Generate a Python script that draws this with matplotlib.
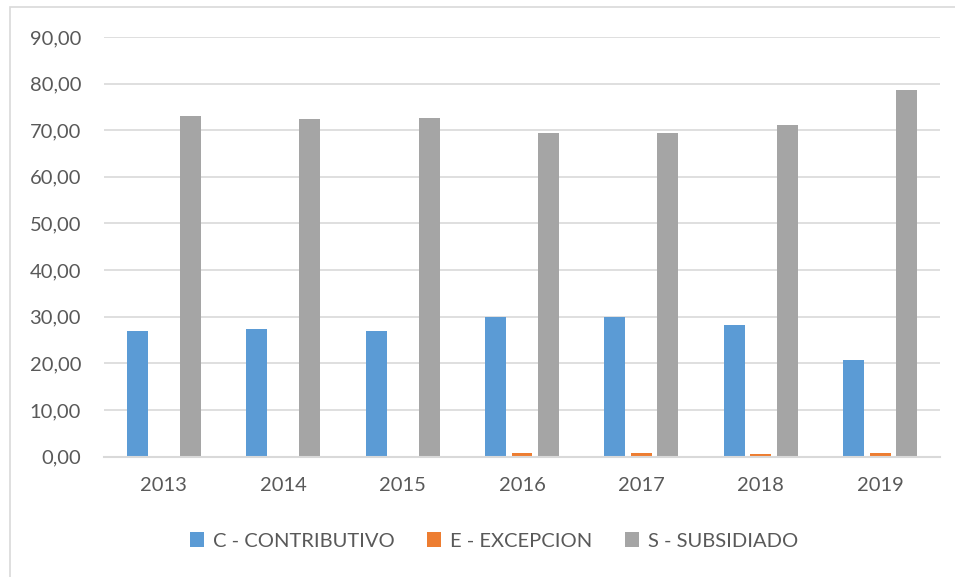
import numpy as np
import matplotlib.pyplot as plt
from matplotlib.patches import Rectangle
from matplotlib.ticker import FuncFormatter

plt.rcParams['font.family'] = ['Lato', 'DejaVu Sans']

years = ['2013', '2014', '2015', '2016', '2017', '2018', '2019']
contributivo = [26.9, 27.4, 26.9, 29.9, 29.9, 28.2, 20.6]
excepcion = [0.05, 0.2, 0.2, 0.7, 0.7, 0.6, 0.75]
subsidiado = [73.1, 72.4, 72.7, 69.5, 69.5, 71.2, 78.6]

series = [
    ('C - CONTRIBUTIVO', contributivo, '#5B9BD5'),
    ('E - EXCEPCION', excepcion, '#ED7D31'),
    ('S - SUBSIDIADO', subsidiado, '#A5A5A5'),
]

text_color = '#595959'
grid_color = '#D9D9D9'

fig = plt.figure(figsize=(9.55, 5.77), dpi=100)
ax = fig.add_axes([104 / 955, 1 - 456.5 / 577, 836 / 955, 419.5 / 577])

x = np.arange(len(years))
width = 0.175
offset = 0.222
for i, (name, vals, color) in enumerate(series):
    ax.bar(x + (i - 1) * offset, vals, width, color=color, label=name, zorder=3)

ax.set_xlim(-0.5, len(years) - 0.5)
ax.set_ylim(0, 90)
ax.set_yticks(np.arange(0, 91, 10))
ax.yaxis.set_major_formatter(FuncFormatter(lambda v, p: f'{v:.2f}'.replace('.', ',')))
ax.set_xticks(x)
ax.set_xticklabels(years)

ax.grid(axis='y', color=grid_color, linewidth=1.2, zorder=0)
for side in ['top', 'right', 'left']:
    ax.spines[side].set_visible(False)
ax.spines['bottom'].set_color(grid_color)
ax.spines['bottom'].set_linewidth(1.5)
ax.spines['bottom'].set_zorder(4)
ax.tick_params(axis='both', length=0, labelsize=14.5, colors=text_color)
ax.tick_params(axis='y', pad=16.5)
ax.tick_params(axis='x', pad=15)

leg = fig.legend(loc='center', bbox_to_anchor=(494 / 955, 1 - 541 / 577), ncol=3,
                 frameon=False, fontsize=14.5, handlelength=0.7, handleheight=0.7,
                 handletextpad=0.45, columnspacing=1.6)
for t in leg.get_texts():
    t.set_color(text_color)

# outer chart border
fig.patches.append(Rectangle((10 / 955, -0.01), 1.0, 1 - 7 / 577 + 0.01,
                             transform=fig.transFigure, fill=False,
                             edgecolor=grid_color, linewidth=1.2))

fig.savefig('out.png', dpi=100)
